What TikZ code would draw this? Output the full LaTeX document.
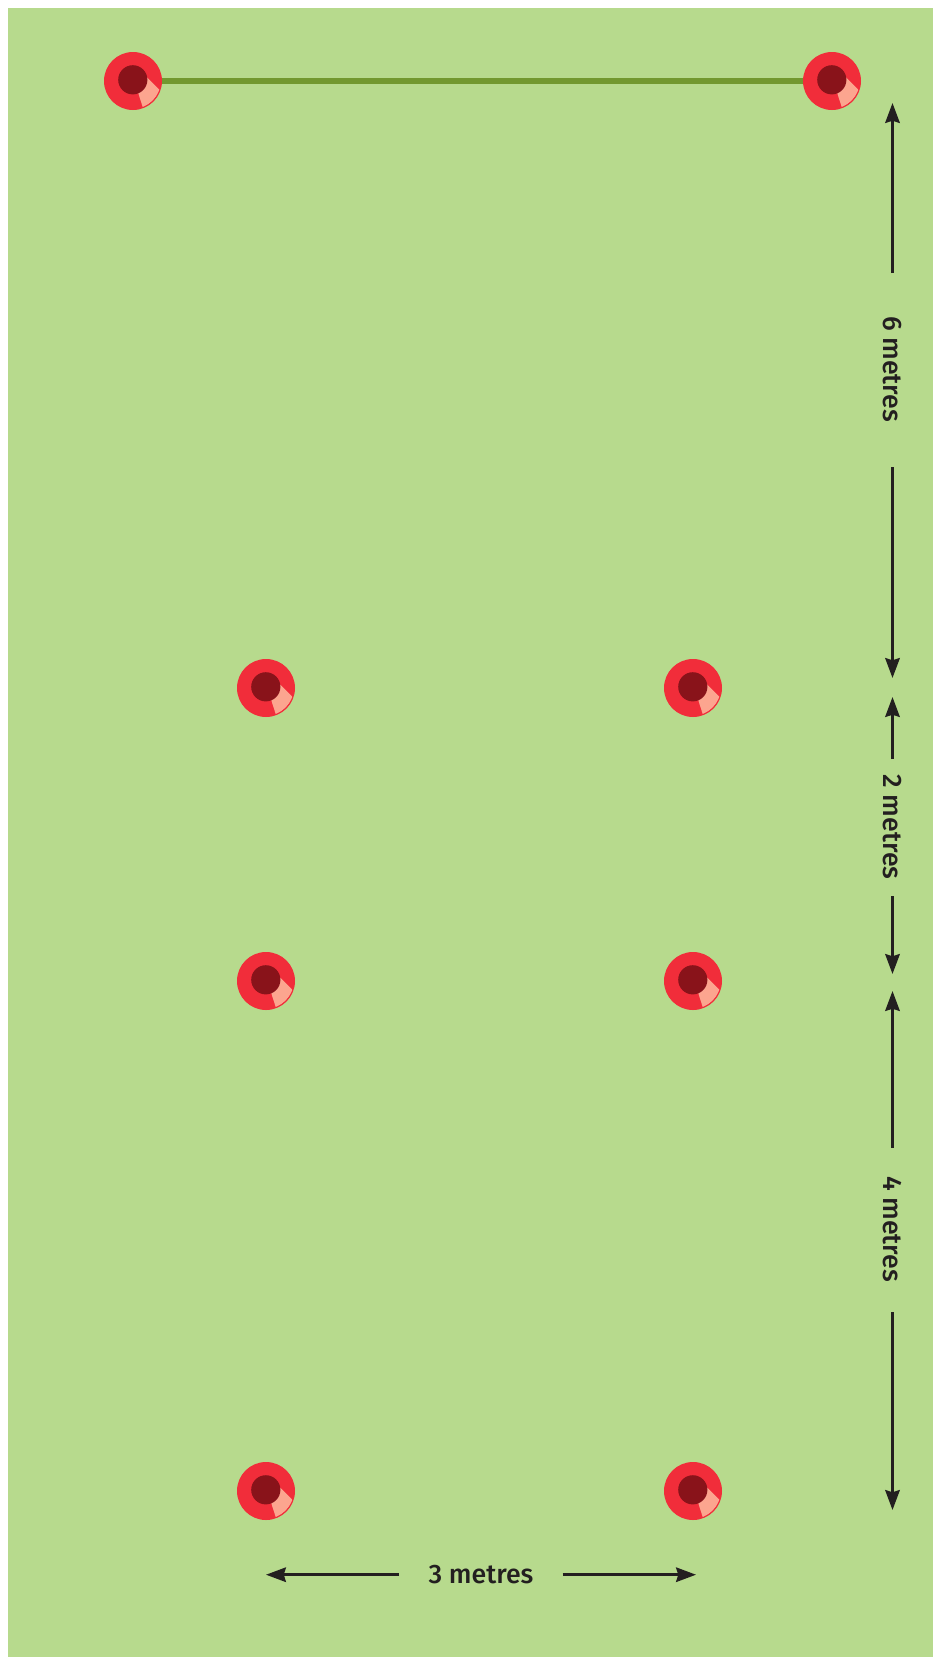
\documentclass[tikz,border=0pt]{standalone}
\usepackage{fontspec}
\setsansfont{Fira Sans}[UprightFont=* Medium]
\usetikzlibrary{arrows.meta}
\definecolor{lawn}{HTML}{B7DA8D}
\definecolor{rope}{HTML}{72982F}
\definecolor{pegred}{HTML}{F12D3A}
\definecolor{pegdark}{HTML}{89131A}
\definecolor{pegpink}{HTML}{FCA58F}
\definecolor{inkblack}{HTML}{231F20}

\begin{document}
\begin{tikzpicture}[
  x=0.02cm, y=-0.02cm,
  font=\sffamily,
  >={Stealth[length=11.3pt, width=8.2pt, inset=1.2pt]},
  %% Main node styles
  peg/.style={
    circle, fill=pegred, inner sep=0pt, minimum size=58*0.02cm,
    path picture={
      \begin{scope}[shift={(path picture bounding box.center)}]
        \clip (-1,-1) circle (29);
        \fill[pegpink] (5.3,12.3) -- (11,30) -- (30,20) -- (28,10.3) -- (14,-3.5) -- cycle;
        \fill[pegdark] (-0.2,-1.2) circle (14.6);
      \end{scope}
    }
  },
  measure/.style={
    inkblack, font=\sffamily\fontsize{15.2}{17}\selectfont, inner sep=0pt
  },
  dimline/.style={->, inkblack, line width=1.7pt},
]
\useasboundingbox (0,0) rectangle (933,1657);

%% ── LAWN ──────────────────────────────────────────────────────────────────
\fill[lawn] (8,8) rectangle (933,1657);

%% ── PEGS ──────────────────────────────────────────────────────────────────
\node[peg] (topleft)  at (133,81)  {};
\node[peg] (topright) at (832,81)  {};
\node[peg] (upleft)   at (266,688) {};
\node[peg] (upright)  at (693,688) {};
\node[peg] (midleft)  at (266,981) {};
\node[peg] (midright) at (693,981) {};
\node[peg] (lowleft)  at (266,1491) {};
\node[peg] (lowright) at (693,1491) {};

%% Rope between the two top pegs
\draw[rope, line width=3.1pt] (topleft) -- (topright);

%% ── MEASURE LABELS ────────────────────────────────────────────────────────
\node[measure, rotate=-90] (six)   at (892,369)  {6 metres};
\node[measure, rotate=-90] (two)   at (892,827)  {2 metres};
\node[measure, rotate=-90] (four)  at (892,1229) {4 metres};
\node[measure]             (three) at (481,1575) {3 metres};

%% ── ARROW ENDS ────────────────────────────────────────────────────────────
\coordinate (sixtop)    at (892.5,103);
\coordinate (sixfrom)   at (892.5,273);
\coordinate (sixto)     at (892.5,467);
\coordinate (sixbot)    at (892.5,678);
\coordinate (twotop)    at (892.5,697);
\coordinate (twofrom)   at (892.5,759);
\coordinate (twoto)     at (892.5,896);
\coordinate (twobot)    at (892.5,974);
\coordinate (fourtop)   at (892.5,991);
\coordinate (fourfrom)  at (892.5,1147.5);
\coordinate (fourto)    at (892.5,1312);
\coordinate (fourbot)   at (892.5,1510);
\coordinate (threeleft) at (266,1574.7);
\coordinate (threefrom) at (399,1574.7);
\coordinate (threeto)   at (562.7,1574.7);
\coordinate (threeright) at (696,1574.7);

%% ── ARROWS ────────────────────────────────────────────────────────────────
\draw[dimline] (sixfrom) -- (sixtop);
\draw[dimline] (sixto) -- (sixbot);
\draw[dimline] (twofrom) -- (twotop);
\draw[dimline] (twoto) -- (twobot);
\draw[dimline] (fourfrom) -- (fourtop);
\draw[dimline] (fourto) -- (fourbot);
\draw[dimline] (threefrom) -- (threeleft);
\draw[dimline] (threeto) -- (threeright);

\end{tikzpicture}
\end{document}
